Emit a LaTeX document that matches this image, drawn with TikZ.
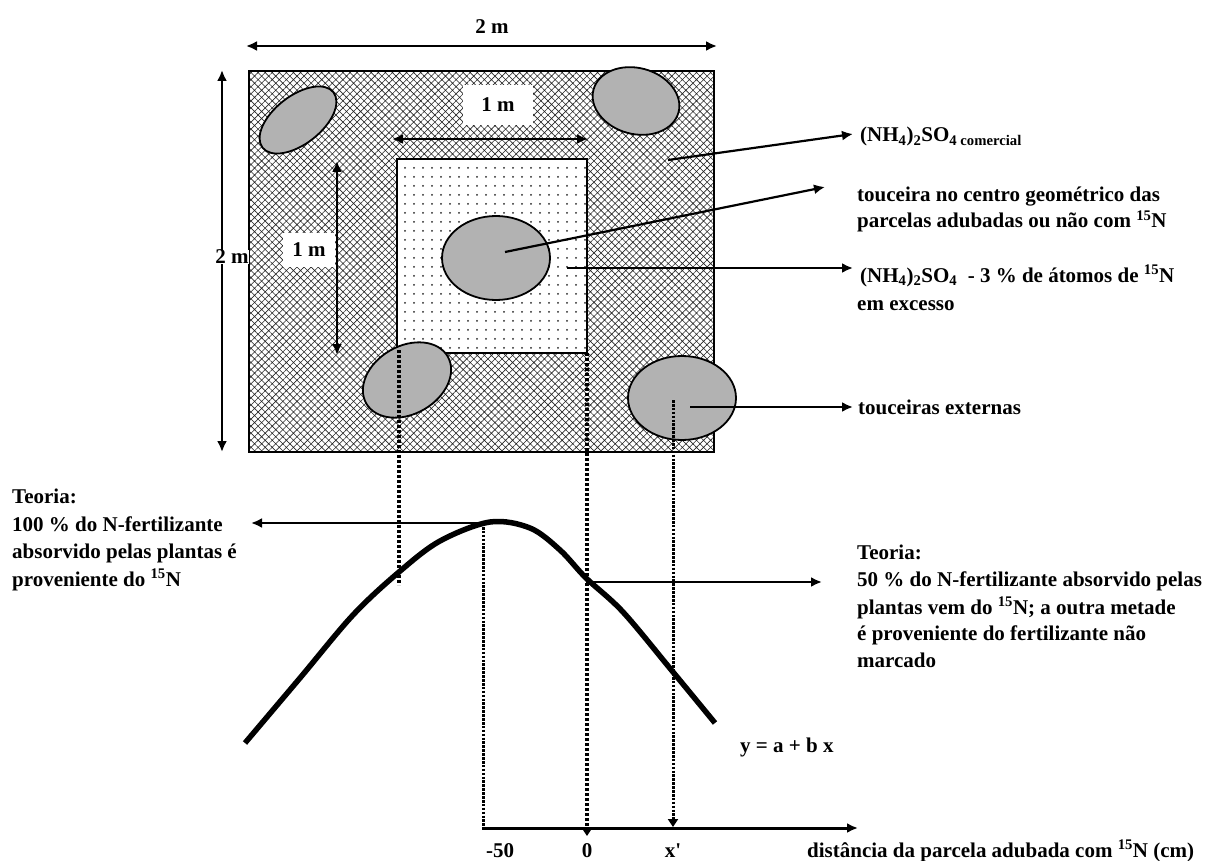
\documentclass[tikz,border=0pt]{standalone}
\usepackage{fontspec}
\setmainfont{Liberation Serif}
\usetikzlibrary{patterns.meta,arrows.meta}
\begin{document}
\begin{tikzpicture}[x=1pt,y=-1pt,
  every node/.style={font=\fontsize{21}{27}\selectfont\bfseries, inner sep=0pt},
  lbl/.style={anchor=base west},
  ctr/.style={anchor=base},
  tipA/.tip={Latex[length=11pt,width=10pt]},
  arr/.style={line width=2.2pt,-tipA},
  dimarr/.style={line width=2.4pt,tipA-tipA},
  clump/.style={draw,line width=1.8pt,fill=black!30},
  whitebox/.style={fill=white,inner sep=0pt},
  thickdot/.style={line width=4.2pt,dash pattern=on 3.4pt off 1.6pt},
  thindot/.style={line width=3pt,dash pattern=on 2.6pt off 1.3pt},
  downtip/.style={-{Triangle[length=8pt,width=10pt]}}
]
\useasboundingbox[fill=white] (0,0) rectangle (1207,861);

% --- field (outer plot)
\draw[line width=2pt, pattern={Hatch[angle=45,distance=5pt,line width=0.6pt]}, pattern color=black!85]
  (249,71) rectangle (714,452);
% --- inner labelled plot
\draw[line width=2pt, preaction={fill=white}, pattern={Dots[distance=9pt,radius=1pt]}, pattern color=black!85]
  (397,159) rectangle (587,353);

% --- clumps
\coordinate (e1) at (298,120);
\coordinate (e2) at (636,101);
\coordinate (e3) at (496,258);
\coordinate (e4) at (407,380);
\coordinate (e5) at (682,398);
\draw[clump, rotate around={38:(e1)}] (e1) ellipse [x radius=45pt, y radius=24pt];
\draw[clump, rotate around={-15:(e2)}] (e2) ellipse [x radius=44pt, y radius=33pt];
\draw[clump] (e3) ellipse [x radius=54pt, y radius=42pt];
\draw[clump, rotate around={30:(e4)}] (e4) ellipse [x radius=47pt, y radius=34pt];
\draw[clump] (e5) ellipse [x radius=54pt, y radius=42pt];

% --- dimension arrows
\coordinate (t2a) at (246,46); \coordinate (t2b) at (717,46);
\draw[dimarr] (t2a) -- (t2b);
\node[ctr] (lab2mt) at (492,34) {2 m};

\coordinate (l2a) at (222,70); \coordinate (l2b) at (222,452);
\draw[dimarr] (l2a) -- (l2b);
\node[whitebox] (lab2ml) at (232,257) {2 m};

\coordinate (h1a) at (392,139); \coordinate (h1b) at (588,139);
\draw[dimarr] (h1a) -- (h1b);
\node[whitebox, minimum width=70pt, minimum height=40pt] (lab1mt) at (498,105) {1 m};

\coordinate (v1a) at (337,161); \coordinate (v1b) at (337,355);
\draw[dimarr] (v1a) -- (v1b);
\node[whitebox, minimum width=52pt, minimum height=34pt] (lab1ml) at (309,250) {1 m};

% --- right-hand labels
\coordinate (p1) at (668,160); \coordinate (q1) at (853,134);
\draw[arr] (p1) -- (q1);
\node[lbl] (txt1) at (860,142) {(NH\textsubscript{4})\textsubscript{2}SO\textsubscript{4 comercial}};

\coordinate (p2) at (505,252); \coordinate (q2) at (825,187);
\draw[arr] (p2) -- (q2);
\node[lbl] (txt2a) at (857,202) {touceira no centro geométrico das};
\node[lbl] (txt2b) at (857,228) {parcelas adubadas ou não com \textsuperscript{15}N};

\coordinate (p3) at (567,268); \coordinate (q3) at (853,268);
\draw[arr] (p3) -- (q3);
\node[lbl] (txt3a) at (860,282) {(NH\textsubscript{4})\textsubscript{2}SO\textsubscript{4}\ \ - 3 \% de átomos de \textsuperscript{15}N};
\node[lbl] (txt3b) at (857,310) {em excesso};

\coordinate (p4) at (690,407); \coordinate (q4) at (853,407);
\draw[arr] (p4) -- (q4);
\node[lbl] (txt4) at (858,414) {touceiras externas};

% --- response curve
\draw[line width=5.5pt, line join=round] plot[smooth, tension=0.55] coordinates
  {(245,743) (300,678) (353,615) (399,572) (440,541) (490,522) (530,528) (560,550) (586,578) (623,612) (673,672) (715,723)};

% --- projection lines
\coordinate (dA1) at (399,350); \coordinate (dA2) at (399,585);
\draw[thickdot] (dA1) -- (dA2);
\coordinate (dB1) at (587,353); \coordinate (dB2) at (587,836);
\draw[thickdot, downtip] (dB1) -- (dB2);
\coordinate (dC1) at (483,523); \coordinate (dC2) at (483,828);
\draw[thindot] (dC1) -- (dC2);
\coordinate (dD1) at (673,400); \coordinate (dD2) at (673,827);
\draw[thindot, downtip] (dD1) -- (dD2);

% --- theory arrows
\coordinate (tl1) at (483,523); \coordinate (tl2) at (251,523);
\draw[arr] (tl1) -- (tl2);
\coordinate (tr1) at (586,582); \coordinate (tr2) at (822,582);
\draw[arr] (tr1) -- (tr2);

\node[lbl] (lt1) at (12,503) {Teoria:};
\node[lbl] (lt2) at (12,531) {100 \% do N-fertilizante};
\node[lbl] (lt3) at (12,558) {absorvido pelas plantas é};
\node[lbl] (lt4) at (12,586) {proveniente do \textsuperscript{15}N};

\node[lbl] (rt1) at (857,559) {Teoria:};
\node[lbl] (rt2) at (857,586) {50 \% do N-fertilizante absorvido pelas};
\node[lbl] (rt3) at (857,614) {plantas vem do \textsuperscript{15}N; a outra metade};
\node[lbl] (rt4) at (857,640) {é proveniente do fertilizante não};
\node[lbl] (rt5) at (857,667) {marcado};

\node[lbl] (eq) at (740,752) {y = a + b x};

% --- distance axis
\coordinate (ax1) at (482,828); \coordinate (ax2) at (858,828);
\draw[line width=3pt, -{Latex[length=11pt,width=10pt]}] (ax1) -- (ax2);
\node[ctr] (m50) at (500,857) {-50};
\node[ctr] (zero) at (587,857) {0};
\node[ctr] (xp) at (673,857) {x\textquotesingle};
\node[lbl] (axt) at (807,857) {distância da parcela adubada com \textsuperscript{15}N (cm)};
\end{tikzpicture}
\end{document}
